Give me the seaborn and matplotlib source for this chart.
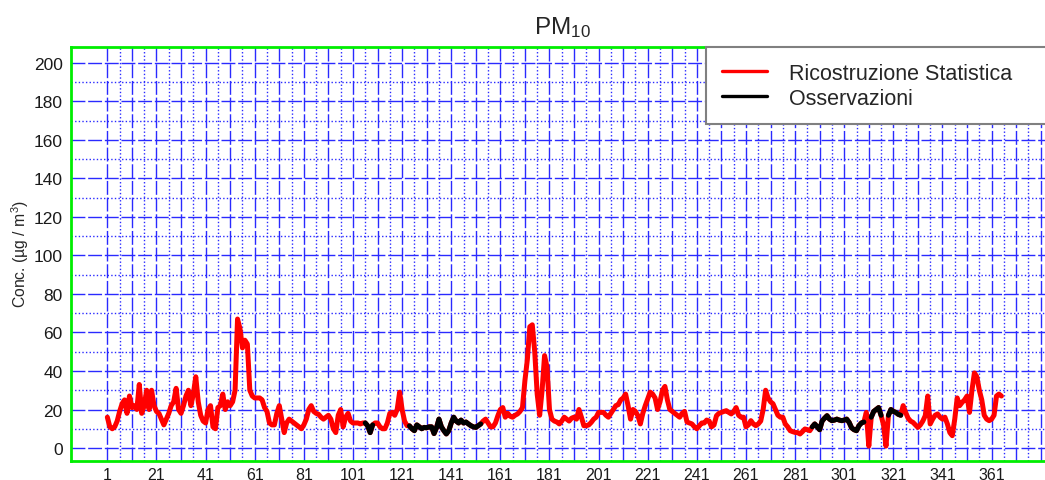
import numpy as np
import pandas as pd
import matplotlib
matplotlib.use("Agg")
import matplotlib.pyplot as plt
import seaborn as sns
from matplotlib.lines import Line2D

# ---------------- data ----------------
title = "PM$_{10}$"
ylabel = "Conc. (µg / m$^3$)"
series_names = ["Ricostruzione Statistica", "Osservazioni"]
series_colors = ["#FF0000", "#000000"]

# daily values, day 1 .. 365 (statistical reconstruction)
ricostruzione = [
    16, 11, 10, 11, 14, 19, 23, 25, 18, 27,
    21, 22, 20, 33, 18, 22, 30, 20, 30, 22,
    19, 18, 15, 12, 15, 18, 22, 24, 31, 20,
    18, 22, 27, 30, 22, 28, 37, 24, 17, 14,
    13, 20, 22, 11, 10, 21, 22, 28, 20, 24,
    22, 24, 30, 67, 62, 52, 56, 54, 30, 27,
    26, 26, 26, 25, 21, 19, 13, 12, 12, 18,
    22, 15, 8, 13, 15, 14, 13, 12, 11, 10,
    12, 15, 20, 22, 19, 18, 17.5, 16, 15, 16,
    17, 15, 10, 8, 17, 20, 11, 16, 18, 14,
    13, 13, 13, 12.5, 13, 13, 11.5, 8, 12, 13,
    13, 11, 10, 10, 13, 18, 18.5, 17, 20, 29,
    20, 14, 11.6, 11.5, 10, 9, 12, 11, 10, 10.7,
    10.5, 11, 11, 7.5, 10.5, 15, 11, 9, 7.3, 9,
    13, 16, 14, 13, 14.5, 13, 13.5, 12.5, 11.6, 11,
    10.7, 11.6, 12.5, 14, 15, 13, 11, 11, 13, 16.8,
    20, 21, 16, 18, 16.5, 16, 17, 17.7, 19, 21,
    35, 46, 63, 64, 50, 28, 17, 30, 48, 42,
    20, 15, 14, 13.5, 12.5, 14, 16, 15, 14, 15.5,
    16, 15, 20, 16, 11.6, 11.6, 12, 13.3, 15, 16,
    18.5, 18.5, 18.5, 17, 16, 18, 20, 22, 22.5, 25,
    26, 28, 22, 15, 20, 19, 16.8, 12.5, 18, 22,
    25.5, 29, 28, 26, 20, 24, 30, 32, 25, 20,
    19, 18, 17, 16, 18, 19, 13.5, 13, 12.5, 11,
    10, 11.5, 13, 13, 14.5, 14, 11, 12, 16.8, 18,
    18.5, 19, 19.4, 18.5, 17.7, 19, 21, 17, 16, 16,
    11, 12, 14.2, 12.5, 11.6, 12.5, 14, 20, 30, 26,
    24, 23, 20, 17, 16, 16, 12.5, 11, 9, 8.5,
    8.1, 8, 7.3, 8.5, 9.9, 9.5, 9, 11, 12.5, 11,
    9.5, 14, 15.5, 16.8, 15, 14.2, 14.5, 15, 14.5, 14.2,
    14.5, 15, 13.3, 10.5, 9.5, 9, 11.6, 13, 13.5, 18.5,
    1, 16, 19, 20, 21, 17, 12, 1, 17, 20,
    19, 18.5, 17.5, 17, 22, 18.5, 15.5, 14, 13.3, 12,
    10.7, 12, 14, 16.8, 27, 12.5, 15, 17, 17.7, 16,
    15, 16, 12.5, 8, 6.4, 15, 26, 22, 23.7, 25,
    27, 18.5, 30, 39, 37, 30, 25, 17, 15, 14.2,
    15, 17, 27, 28, 27,
]

# observation periods (first day of each period, then daily values)
oss_start = [106, 124, 288, 312, 319]
oss_values = [
    [13, 11.5, 8, 12],
    [11.5, 10, 9, 12, 11, 10, 10.7, 10.5, 11, 11, 7.5, 10.5, 15, 11, 9,
     7.3, 9, 13, 16, 14, 13, 14.5, 13, 13.5, 12.5, 11.6, 11, 10.7, 11.6, 12.5],
    [11, 12.5, 11, 9.5, 14, 15.5, 16.8, 15, 14.2, 14.5, 15, 14.5, 14.2,
     14.5, 15, 13.3, 10.5, 9.5, 9, 11.6, 13, 13.5],
    [16, 19, 20, 21, 17],
    [17, 20, 19, 18.5, 17.5, 17],
]

x_major_ticks = list(range(1, 382, 10))
x_tick_labels = [1, 21, 41, 61, 81, 101, 121, 141, 161, 181, 201, 221,
                 241, 261, 281, 301, 321, 341, 361]
y_major_ticks = [0, 20, 40, 60, 80, 100, 120, 140, 160, 180, 200]

# ---------------- frames ----------------
days = np.arange(1, len(ricostruzione) + 1)
df_ric = pd.DataFrame({"giorno": days, "conc": ricostruzione})

rows = []
for seg, (s, vals) in enumerate(zip(oss_start, oss_values)):
    for i, v in enumerate(vals):
        rows.append({"giorno": s + i, "conc": v, "seg": seg})
df_oss = pd.DataFrame(rows)

# ---------------- style ----------------
sns.set_style("white")
plt.rcParams["font.family"] = ["Liberation Sans", "DejaVu Sans"]
plt.rcParams["mathtext.default"] = "regular"

W, H = 1045, 481
fig = plt.figure(figsize=(W / 100, H / 100), dpi=100)
ax_left, ax_right, ax_top, ax_bot = 71, 1053, 48, 462
ax = fig.add_axes([ax_left / W, 1 - ax_bot / H,
                   (ax_right - ax_left) / W, (ax_bot - ax_top) / H])

LW = 3.6
sns.lineplot(data=df_ric, x="giorno", y="conc", color=series_colors[0],
             lw=LW, ax=ax, estimator=None, zorder=3)
sns.lineplot(data=df_oss, x="giorno", y="conc", units="seg", estimator=None,
             color=series_colors[1], lw=LW, ax=ax, zorder=4)

ax.set_xlim(-13.8, 379)
ax.set_ylim(-6.75, 208.3)

ax.set_xticks(x_major_ticks)
lbl_set = set(x_tick_labels)
ax.set_xticklabels([str(t) if t in lbl_set else "" for t in x_major_ticks])
ax.set_xticks([t + 5 for t in x_major_ticks], minor=True)
ax.set_yticks(y_major_ticks)
ax.set_yticks([t + 10 for t in y_major_ticks[:-1]], minor=True)

grid_col = "#2a2aff"
ax.set_axisbelow(True)
ax.grid(which="major", color=grid_col, linestyle=(0, (10, 2)), lw=1.0)
ax.grid(which="minor", color=grid_col, linestyle=(0, (1, 1.6)), lw=1.0)

ax.tick_params(which="major", direction="out", length=4.5, width=1,
               color="#777777", labelsize=12.5, labelcolor="#1a1a1a", pad=1.5)
ax.tick_params(axis="x", which="major", labelsize=11.5, pad=0.2, length=3.8)
ax.tick_params(which="minor", length=0)

for side in ["left", "top", "bottom"]:
    ax.spines[side].set_color("#00ee00")
    ax.spines[side].set_linewidth(2)
ax.spines["right"].set_visible(False)

ax.set_xlabel("")
ax.set_ylabel("")

fig.text(562 / W, 1 - 28 / H, title, ha="center", va="center", fontsize=17.5)
fig.text(20 / W, 1 - 254 / H, ylabel, rotation=90, ha="center", va="center",
         fontsize=11.3)

handles = [Line2D([], [], color=c, lw=2.4) for c in series_colors]
leg_left, leg_right, leg_top, leg_bot = 706, 1070, 48, 121
leg = ax.legend(handles, series_names, loc="upper left", mode="expand",
                bbox_to_anchor=(leg_left / W, 1 - leg_bot / H,
                                (leg_right - leg_left) / W,
                                (leg_bot - leg_top) / H),
                bbox_transform=fig.transFigure, borderaxespad=0,
                fontsize=15.5, frameon=True, fancybox=False,
                handlelength=2.1, handletextpad=1.05, borderpad=0.72,
                labelspacing=0.2)
leg.get_frame().set_edgecolor("#808080")
leg.get_frame().set_linewidth(1.5)
leg.get_frame().set_facecolor("white")
leg.get_frame().set_alpha(1)
leg.set_zorder(10)

fig.savefig("out.png", dpi=100)
